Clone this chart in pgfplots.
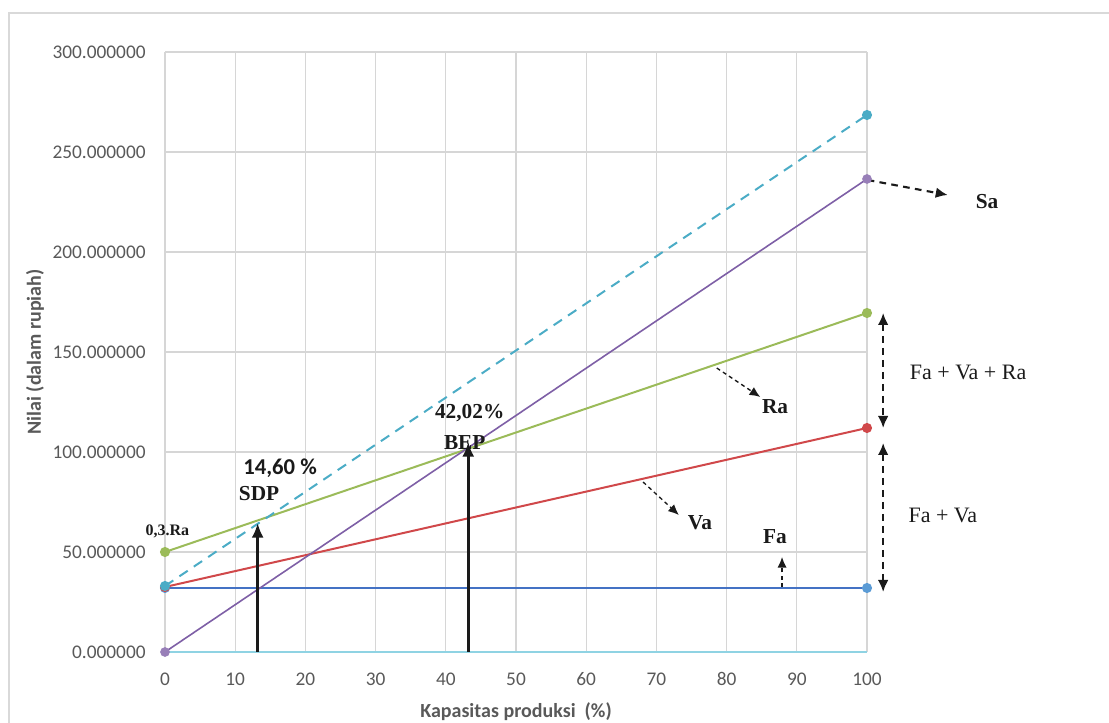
\documentclass[border=0pt]{standalone}
\usepackage{pgfplots}
\pgfplotsset{compat=1.18}
\usepackage{fontspec}
\setmainfont{Carlito}
\newfontfamily\serif{Liberation Serif}
\usetikzlibrary{arrows.meta}
\definecolor{cFa}{HTML}{4472C4}
\definecolor{cFaM}{HTML}{5B9BD5}
\definecolor{cVa}{HTML}{D0484A}
\definecolor{cRa}{HTML}{9BBB59}
\definecolor{cSa}{HTML}{7E5FA6}
\definecolor{cCy}{HTML}{4BACC6}
\definecolor{cAx}{HTML}{8FD3E3}
\definecolor{txtgray}{HTML}{595959}
\definecolor{ink}{HTML}{1A1A1A}
\begin{document}
\begin{tikzpicture}
\useasboundingbox (0pt,0pt) rectangle (831.75pt,542.25pt);
\draw[black!15, line width=0.9pt] (6.75pt,0pt) -- (6.75pt,532.5pt) -- (831.75pt,532.5pt);
\begin{axis}[
  at={(123.75pt,53.25pt)}, anchor=south west,
  width=526.5pt, height=450pt, scale only axis,
  xmin=0, xmax=100, ymin=0, ymax=300,
  xtick={0,10,...,100},
  xticklabels={0,10,20,30,40,50,60,70,80,90,100},
  ytick={0,50,100,150,200,250,300},
  yticklabels={0.000000,50.000000,100.000000,150.000000,200.000000,250.000000,300.000000},
  grid=major, major grid style={black!16, line width=0.8pt},
  axis line style={draw=none}, tick style={draw=none},
  ticklabel style={font=\fontsize{14.5}{17}\selectfont, text=txtgray},
  yticklabel style={xshift=-11pt},
  xticklabel style={yshift=-12pt},
  xlabel={Kapasitas produksi\ \ (\%)},
  ylabel={Nilai (dalam rupiah)},
  every axis x label/.style={at={(axis description cs:0.5,0)}, anchor=center, yshift=-45pt, font=\bfseries\fontsize{15}{17}\selectfont, text=txtgray},
  every axis y label/.style={at={(axis description cs:-0.185,0.5)}, rotate=90, anchor=center, font=\bfseries\fontsize{15}{17}\selectfont, text=txtgray},
  clip=false,
]
% axis baseline
\addplot[cAx, line width=1pt] coordinates {(0,0) (100,0)};
% Fa
\addplot[cFa, line width=1.5pt, mark=*, mark size=3pt, mark options={fill=cFaM, draw=cFaM}] coordinates {(0,32) (100,32)};
% Va
\addplot[cVa, line width=1.5pt, mark=*, mark size=3pt, mark options={fill=cVa, draw=cVa}] coordinates {(0,32.5) (100,112)};
% Ra
\addplot[cRa, line width=1.5pt, mark=*, mark size=3pt, mark options={fill=cRa, draw=cRa}] coordinates {(0,50) (100,169.5)};
% Sa
\addplot[cSa, line width=1.2pt, mark=*, mark size=3pt, mark options={fill=cSa!80, draw=cSa!80}] coordinates {(0,0) (100,236.5)};
% dashed total
\addplot[cCy, line width=1.5pt, dash pattern=on 7.5pt off 5.5pt, mark=*, mark size=3pt, mark options={solid, fill=cCy, draw=cCy}] coordinates {(0,33) (100,268.5)};

% annotations
\draw[ink, line width=2pt, -{Latex[length=11pt,width=9pt]}] (axis cs:13.2,0) -- (axis cs:13.2,64.5);
\draw[ink, line width=2pt, -{Latex[length=11pt,width=9pt]}] (axis cs:43.2,0) -- (axis cs:43.2,105);
\node[font=\bfseries\fontsize{17}{19}\selectfont, text=ink] at (axis cs:16.4,92) {14,60 \%};
\node[font=\serif\bfseries\fontsize{16}{18}\selectfont, text=ink] at (axis cs:13.4,79) {SDP};
\node[font=\serif\bfseries\fontsize{12}{14}\selectfont, text=ink] at (axis cs:0.35,60.5) {0,3.Ra};
\node[font=\serif\bfseries\fontsize{16}{18}\selectfont, text=ink] at (axis cs:43.4,119.5) {42,02\%};
\node[font=\serif\bfseries\fontsize{16}{18}\selectfont, text=ink] at (axis cs:42.7,104.5) {BEP};

\draw[ink, line width=1pt, dash pattern=on 3pt off 2.5pt, -{Latex[length=8pt,width=7pt]}] (axis cs:78.6,142) -- (axis cs:84.8,127.5);
\node[font=\serif\bfseries\fontsize{16}{18}\selectfont, text=ink] at (axis cs:86.9,122.5) {Ra};
\draw[ink, line width=1pt, dash pattern=on 3pt off 2.5pt, -{Latex[length=8pt,width=7pt]}] (axis cs:68.1,85) -- (axis cs:73.2,68.5);
\node[font=\serif\bfseries\fontsize{16}{18}\selectfont, text=ink] at (axis cs:76.2,64.5) {Va};
\draw[ink, line width=1pt, dash pattern=on 3pt off 2.5pt, -{Latex[length=8pt,width=7pt]}] (axis cs:87.9,32.5) -- (axis cs:87.9,47.5);
\node[font=\serif\bfseries\fontsize{16}{18}\selectfont, text=ink] at (axis cs:86.9,57.5) {Fa};
\draw[ink, line width=1.6pt, dash pattern=on 5pt off 4pt, -{Latex[length=9pt,width=8pt]}] (axis cs:100.1,236) -- (axis cs:111.5,228.5);
\node[font=\serif\bfseries\fontsize{16}{18}\selectfont, text=ink] at (axis cs:117.1,225) {Sa};
\draw[ink, line width=1.6pt, dash pattern=on 5pt off 4pt, {Latex[length=9pt,width=8pt]}-{Latex[length=9pt,width=8pt]}] (axis cs:102.3,169.5) -- (axis cs:102.3,112);
\node[font=\serif\fontsize{16.5}{18}\selectfont, text=ink] at (axis cs:114.4,140) {Fa + Va + Ra};
\draw[ink, line width=1.6pt, dash pattern=on 5pt off 4pt, {Latex[length=9pt,width=8pt]}-{Latex[length=9pt,width=8pt]}] (axis cs:102.3,104.5) -- (axis cs:102.3,30);
\node[font=\serif\fontsize{16.5}{18}\selectfont, text=ink] at (axis cs:110.8,68.5) {Fa + Va};
\end{axis}
\end{tikzpicture}
\end{document}
